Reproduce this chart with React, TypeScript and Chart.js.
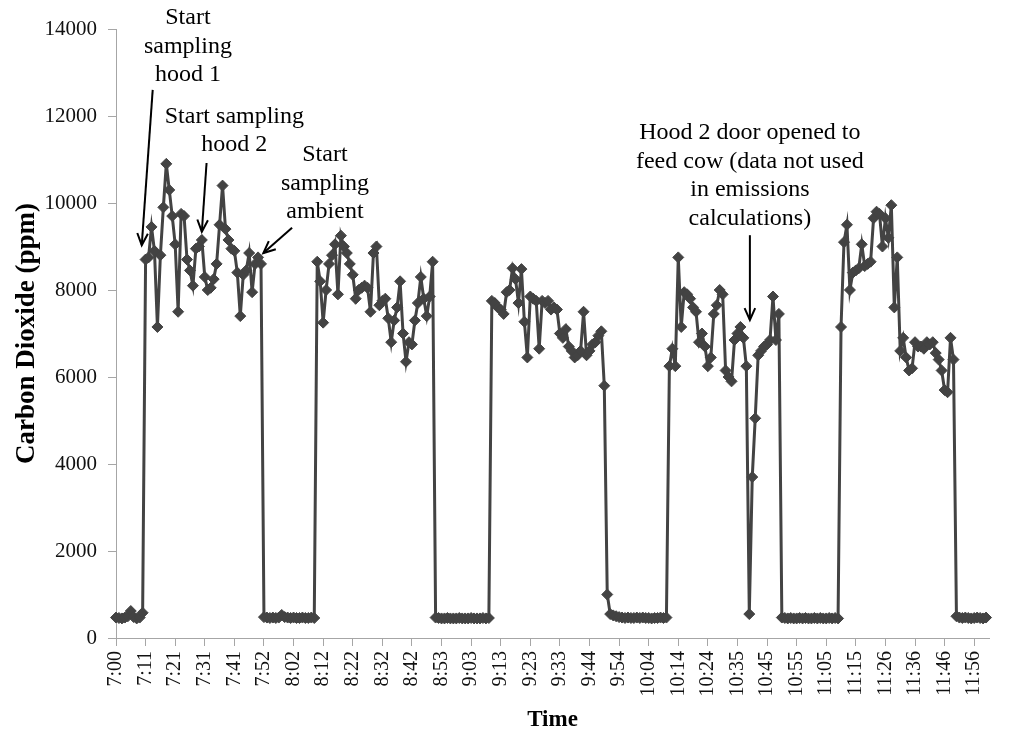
import { useEffect, useRef } from 'react'
import { Chart, registerables, type ChartConfiguration, type Plugin, type Scale } from 'chart.js'

Chart.register(...registerables)

// x tick labels, one every 10 readings (about one reading per minute)
const tickLabels = [
  '7:00', '7:11', '7:21', '7:31', '7:41', '7:52', '8:02', '8:12', '8:22', '8:32',
  '8:42', '8:53', '9:03', '9:13', '9:23', '9:33', '9:44', '9:54', '10:04', '10:14',
  '10:24', '10:35', '10:45', '10:55', '11:05', '11:15', '11:26', '11:36', '11:46', '11:56',
]

// CO2 readings (ppm), split into ambient and hood sampling runs
const ambient1 = [470, 460, 450, 470, 500, 620, 480, 450, 470, 580]
const hoods1 = [
  8700, 8750, 9450, 8900, 7150, 8800, 9900, 10900, 10300, 9700,
  9050, 7500, 9750, 9700, 8700, 8450, 8100, 8950, 9000, 9150,
  8300, 8000, 8050, 8250, 8600, 9500, 10400, 9400, 9150, 8950,
  8900, 8400, 7400, 8350, 8450, 8850, 7950, 8600, 8750, 8600,
]
const ambient2 = [480, 470, 460, 470, 460, 470, 530, 480, 470, 460, 470, 460, 460, 470, 460, 460, 470, 460]
const hoods2 = [
  8650, 8200, 7250, 8000, 8600, 8800, 9050, 7900, 9250, 9000,
  8850, 8600, 8350, 7800, 8000, 8050, 8100, 8050, 7500, 8850,
  9000, 7650, 7750, 7800, 7350, 6800, 7300, 7600, 8200, 7000,
  6350, 6800, 6750, 7300, 7700, 8300, 7800, 7400, 7850, 8650,
]
const ambient3 = [470, 460, 450, 450, 460, 450, 450, 450, 460, 450, 450, 450, 460, 450, 450, 450, 460, 450, 460]
const hoods3 = [
  7750, 7700, 7600, 7550, 7450, 7950, 8000, 8500, 8250, 7700,
  8480, 7270, 6450, 7850, 7800, 7750, 6650, 7750, 7700, 7750,
  7550, 7600, 7550, 7000, 6900, 7100, 6700, 6600, 6450, 6500,
  6600, 7500, 6500, 6600, 6750, 6800, 6950, 7050, 5800,
]
const ambient4 = [1000, 550, 520, 500, 480, 470, 460, 470, 460, 460, 470, 460, 470, 460, 460, 450, 460, 460, 470, 460, 470]
const hoods4 = [
  6250, 6650, 6250, 8750, 7150, 7950, 7900, 7800, 7600, 7500,
  6800, 7000, 6700, 6250, 6450, 7450, 7650, 8000, 7900, 6150,
  6000, 5900, 6850, 7000, 7150, 6900, 6250, 550, 3700, 5050,
  6500, 6600, 6700, 6750, 6850, 7850, 6850, 7450,
]
const ambient5 = [470, 460, 450, 460, 450, 450, 460, 450, 460, 450, 450, 460, 450, 460, 450, 450, 460, 450, 460, 450]
const hoods5 = [
  7150, 9100, 9500, 8000, 8400, 8450, 8500, 9050, 8550, 8600,
  8650, 9650, 9800, 9750, 9000, 9650, 9200, 9950, 7600, 8750,
  6600, 6900, 6450, 6150, 6200, 6800, 6700, 6700, 6650, 6800,
  6750, 6800, 6550, 6400, 6150, 5700, 5650, 6900, 6400,
]
const ambient6 = [500, 470, 460, 470, 460, 450, 460, 470, 460, 450, 470]

const co2 = [
  ...ambient1, ...hoods1, ...ambient2, ...hoods2, ...ambient3, ...hoods3,
  ...ambient4, ...hoods4, ...ambient5, ...hoods5, ...ambient6,
]

// callouts in data units: reading index and ppm
const notes = [
  { lines: ['Start', 'sampling', 'hood 1'], x: 24.3, y: 14250, from: [12.4, 12600], to: [8.7, 9030] },
  { lines: ['Start sampling', 'hood 2'], x: 40, y: 11990, from: [30.6, 10920], to: [29.0, 9340] },
  { lines: ['Start', 'sampling', 'ambient'], x: 70.6, y: 11100, from: [59.5, 9430], to: [49.8, 8850] },
  {
    lines: ['Hood 2 door opened to', 'feed cow (data not used', 'in emissions', 'calculations)'],
    x: 214.2, y: 11610, from: [214.2, 9260], to: [214.2, 7310],
  },
]

const notesPlugin: Plugin<'line'> = {
  id: 'notes',
  afterDraw(chart) {
    const { ctx } = chart
    const xs = chart.scales.x
    const ys = chart.scales.y
    ctx.save()
    ctx.font = '24px "Liberation Serif"'
    ctx.fillStyle = '#000'
    ctx.strokeStyle = '#000'
    ctx.lineWidth = 2
    ctx.textAlign = 'center'
    ctx.textBaseline = 'middle'
    for (const note of notes) {
      const px = xs.getPixelForValue(note.x)
      const py = ys.getPixelForValue(note.y)
      note.lines.forEach((line, i) => ctx.fillText(line, px, py + i * 28.5))

      const x0 = xs.getPixelForValue(note.from[0])
      const y0 = ys.getPixelForValue(note.from[1])
      const x1 = xs.getPixelForValue(note.to[0])
      const y1 = ys.getPixelForValue(note.to[1])
      ctx.beginPath()
      ctx.moveTo(x0, y0)
      ctx.lineTo(x1, y1)
      ctx.stroke()
      const angle = Math.atan2(y1 - y0, x1 - x0)
      const head = 13
      ctx.beginPath()
      ctx.moveTo(x1 - head * Math.cos(angle - 0.42), y1 - head * Math.sin(angle - 0.42))
      ctx.lineTo(x1, y1)
      ctx.lineTo(x1 - head * Math.cos(angle + 0.42), y1 - head * Math.sin(angle + 0.42))
      ctx.stroke()
    }
    ctx.restore()
  },
}

const axisGrey = '#a6a6a6'
const serif = '"Liberation Serif", "Times New Roman", serif'

export default function App() {
  const canvasRef = useRef<HTMLCanvasElement | null>(null)

  useEffect(() => {
    const canvas = canvasRef.current
    if (!canvas) {
      return
    }

    const config: ChartConfiguration<'line'> = {
      type: 'line',
      data: {
        datasets: [
          {
            label: 'Carbon Dioxide',
            data: co2.map((value, index) => ({ x: index, y: value })),
            borderColor: '#434343',
            backgroundColor: '#434343',
            borderWidth: 3,
            pointStyle: 'rectRot',
            pointRadius: 5.5,
            pointBorderWidth: 1,
            pointBackgroundColor: '#434343',
            pointBorderColor: '#434343',
            tension: 0,
            clip: false,
          },
        ],
      },
      options: {
        responsive: true,
        maintainAspectRatio: false,
        animation: false,
        layout: {
          padding: { top: 29, right: 35, left: 0, bottom: 0 },
        },
        plugins: {
          legend: { display: false },
          tooltip: { enabled: false },
        },
        scales: {
          x: {
            type: 'linear',
            min: 0,
            max: 295,
            afterFit: (scale: Scale) => {
              scale.height = 99
            },
            afterBuildTicks: (scale: Scale) => {
              scale.ticks = tickLabels.map((_, i) => ({ value: i * 10 }))
            },
            grid: {
              drawOnChartArea: false,
              drawTicks: true,
              tickLength: 8,
              color: axisGrey,
            },
            border: { display: true, color: axisGrey, width: 1 },
            ticks: {
              autoSkip: false,
              minRotation: 90,
              maxRotation: 90,
              padding: 5,
              color: '#111',
              font: { family: serif, size: 20 },
              callback: (value) => tickLabels[Math.round(Number(value) / 10)] ?? '',
            },
            title: {
              display: true,
              text: 'Time',
              color: '#000',
              padding: { top: 0, bottom: 3 },
              font: { family: serif, size: 23, weight: 'bold' },
            },
          },
          y: {
            min: 0,
            max: 14000,
            afterFit: (scale: Scale) => {
              scale.width = 116
            },
            grid: {
              drawOnChartArea: false,
              drawTicks: true,
              tickLength: 8,
              color: axisGrey,
            },
            border: { display: true, color: axisGrey, width: 1 },
            ticks: {
              stepSize: 2000,
              padding: 11,
              color: '#111',
              font: { family: serif, size: 21 },
              callback: (value) => String(value),
            },
            title: {
              display: true,
              text: 'Carbon Dioxide (ppm)',
              color: '#000',
              padding: { top: 11, bottom: 0 },
              font: { family: serif, size: 27, weight: 'bold' },
            },
          },
        },
      },
      plugins: [notesPlugin],
    }

    const chart = new Chart(canvas, config)

    return () => {
      chart.destroy()
    }
  }, [])

  return (
    <div style={{ position: 'absolute', left: 0, top: 0, width: 1024, height: 737, background: '#fff' }}>
      <canvas ref={canvasRef} aria-label="Carbon dioxide concentration over time" role="img" />
    </div>
  )
}
